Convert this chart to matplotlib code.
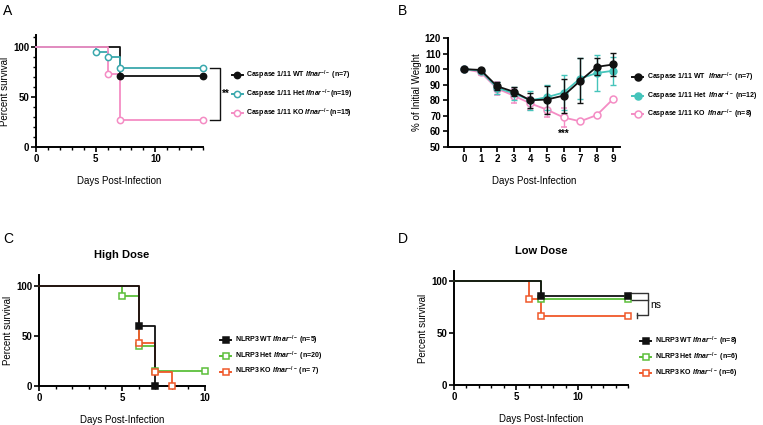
import numpy as np
import matplotlib
matplotlib.use("Agg")
import matplotlib.pyplot as plt
from matplotlib import font_manager
from matplotlib.lines import Line2D
from matplotlib.ticker import MultipleLocator

# the legend text in the figure is a condensed bold face
names = {f.name for f in font_manager.fontManager.ttflist}
if 'Liberation Sans Narrow' in names:
    leg_font, leg_fs = 'Liberation Sans Narrow', 5.7
else:
    leg_font, leg_fs = 'Liberation Sans', 5.0

plt.rcParams['font.family'] = 'Liberation Sans'
plt.rcParams['font.weight'] = 'bold'
plt.rcParams['mathtext.fontset'] = 'custom'
plt.rcParams['mathtext.rm'] = leg_font + ':bold'
plt.rcParams['mathtext.it'] = leg_font + ':italic:bold'
plt.rcParams['mathtext.bf'] = leg_font + ':bold'

# Panel A: Caspase 1/11 survival
a_wt_t, a_wt_s = [0, 7, 14], [100, 71.4, 71.4]
a_het_t, a_het_s = [0, 5, 6, 7, 14], [100, 94.7, 89.5, 78.9, 78.9]
a_ko_t, a_ko_s = [0, 6, 7, 14], [100, 73.3, 26.7, 26.7]
a_labels = [r'Caspase 1/11 WT $\mathit{Ifnar}^{-/-}$ (n=7)',
            r'Caspase 1/11 Het $\mathit{Ifnar}^{-/-}$(n=19)',
            r'Caspase 1/11 KO $\mathit{Ifnar}^{-/-}$(n=15)']

# Panel B: weight
b_days = np.arange(10)
b_wt = [100, 99.5, 89, 85.5, 80, 80.5, 83, 92.5, 101.5, 103]
b_wt_err = [0.8, 0.8, 2.5, 3, 5, 9, 11, 14.5, 5.5, 7.5]
b_het = [100, 99, 88, 84.5, 80, 82, 85, 94, 97.5, 99]
b_het_err = [0.8, 1.5, 4, 4, 6, 8, 11, 13, 11.5, 9]
b_ko = [100, 98, 87.5, 83, 78, 74, 69, 66.5, 70.5, 81]
b_ko_err = [0, 1.5, 4, 4.5, 4, 5, 6, 0, 0, 0]
b_labels = [r'Caspase 1/11 WT  $\mathit{Ifnar}^{-/-}$ (n=7)',
            r'Caspase 1/11 Het  $\mathit{Ifnar}^{-/-}$ (n=12)',
            r'Caspase 1/11 KO  $\mathit{Ifnar}^{-/-}$ (n=8)']

# Panel C: NLRP3 high dose
c_wt_t, c_wt_s = [0, 6, 7], [100, 60, 0]
c_het_t, c_het_s = [0, 5, 6, 7, 10], [100, 90, 40, 15, 15]
c_ko_t, c_ko_s = [0, 6, 7, 8], [100, 42.9, 14.3, 0]
c_labels = [r'NLRP3 WT $\mathit{Ifnar}^{-/-}$ (n=5)',
            r'NLRP3 Het $\mathit{Ifnar}^{-/-}$ (n=20)',
            r'NLRP3 KO $\mathit{Ifnar}^{-/-}$ (n= 7)']

# Panel D: NLRP3 low dose
d_wt_t, d_wt_s = [0, 7, 14], [100, 85.7, 85.7]
d_het_t, d_het_s = [0, 7, 14], [100, 83.3, 83.3]
d_ko_t, d_ko_s = [0, 6, 7, 14], [100, 83.3, 66.7, 66.7]
d_labels = [r'NLRP3 WT $\mathit{Ifnar}^{-/-}$ (n=8)',
            r'NLRP3 Het $\mathit{Ifnar}^{-/-}$ (n=6)',
            r'NLRP3 KO $\mathit{Ifnar}^{-/-}$ (n=6)']

black = '#111111'
teal = '#3aa8ad'
teal_b = '#45c4bb'
pink = '#f48cc4'
green = '#5cbf3a'
orange = '#f0582a'

fig = plt.figure(figsize=(7.63, 4.25), dpi=100)


def style_axes(ax):
    for s in ['top', 'right']:
        ax.spines[s].set_visible(False)
    for s in ['left', 'bottom']:
        ax.spines[s].set_linewidth(1.4)
    ax.tick_params(width=1.2, length=3.5, labelsize=7, pad=1.5)
    ax.tick_params(which='minor', width=1, length=2)


def km(ax, t, s, color, marker, filled, ms=4.5):
    ax.step(t, s, where='post', color=color, lw=1.3, clip_on=False, zorder=3)
    fc = color if filled else 'white'
    ax.plot(t[1:], s[1:], ls='none', marker=marker, ms=ms, mfc=fc, mec=color,
            mew=1.1, clip_on=False, zorder=4)


def legend(ax, colors, markers, filled, labels, loc, pitch, ms=4.5):
    handles = [Line2D([0], [0], color=c, lw=1.4, marker=m, ms=ms,
                      mfc=(c if f else 'white'), mec=c, mew=1.1)
               for c, m, f in zip(colors, markers, filled)]
    spacing = max(pitch / leg_fs - 1.88, 0.0)
    ax.legend(handles, labels, loc='center left', bbox_to_anchor=loc,
              frameon=False, prop={'family': leg_font, 'size': leg_fs,
                                   'weight': 'bold'},
              handlelength=1.6, handletextpad=0.5, labelspacing=spacing,
              borderaxespad=0, borderpad=0)


# ---- A
axA = fig.add_axes([0.0472, 0.654, 0.219, 0.264])
km(axA, a_wt_t, a_wt_s, black, 'o', True)
km(axA, a_het_t, a_het_s, teal, 'o', False)
km(axA, a_ko_t, a_ko_s, pink, 'o', False)
axA.set_xlim(0, 14)
axA.set_ylim(0, 112)
axA.set_xticks([0, 5, 10])
axA.set_yticks([0, 50, 100])
axA.xaxis.set_minor_locator(MultipleLocator(1))
axA.yaxis.set_minor_locator(MultipleLocator(10))
style_axes(axA)
axA.set_xlabel('Days Post-Infection', fontsize=7, labelpad=9)
axA.set_ylabel('Percent survival', fontsize=7, labelpad=2)
# significance bracket
top, bot = a_het_s[-1], a_ko_s[-1]
axA.plot([14.6, 15.4, 15.4, 14.6], [top, top, bot, bot], color=black, lw=1,
         clip_on=False)
axA.text(15.6, (top + bot) / 2, '**', fontsize=7, va='center', ha='left')
legend(axA, [black, teal, pink], ['o', 'o', 'o'], [True, False, False],
       a_labels, (1.17, 0.47), pitch=13.3)
fig.text(0.004, 0.99, 'A', fontsize=10, fontweight='normal', va='top')

# ---- B
axB = fig.add_axes([0.587, 0.654, 0.2256, 0.2566])
axB.errorbar(b_days, b_ko, yerr=b_ko_err, color=pink, lw=1.3, marker='o',
             ms=5, mfc='white', mec=pink, mew=1.1, capsize=2.5, elinewidth=1,
             zorder=3, clip_on=False)
axB.errorbar(b_days, b_het, yerr=b_het_err, color=teal_b, lw=1.3, marker='o',
             ms=5, mfc=teal_b, mec=teal_b, capsize=2.5, elinewidth=1, zorder=4,
             clip_on=False)
axB.errorbar(b_days, b_wt, yerr=b_wt_err, color=black, lw=1.3, marker='o',
             ms=5, mfc=black, mec=black, capsize=2.5, elinewidth=1, zorder=5,
             clip_on=False)
axB.set_xlim(-0.97, 9.4)
axB.set_ylim(50, 120)
axB.set_xticks(b_days)
axB.set_yticks(np.arange(50, 121, 10))
style_axes(axB)
axB.set_xlabel('Days Post-Infection', fontsize=7, labelpad=9)
axB.set_ylabel('% of Initial Weight', fontsize=7, labelpad=2)
axB.text(6, 58.5, '***', fontsize=7, ha='center', va='center')
legend(axB, [black, teal_b, pink], ['o', 'o', 'o'], [True, True, False],
       b_labels, (1.07, 0.468), pitch=13.3, ms=5)
fig.text(0.522, 0.99, 'B', fontsize=10, fontweight='normal', va='top')

# ---- C
axC = fig.add_axes([0.0511, 0.0918, 0.2176, 0.261])
km(axC, c_het_t, c_het_s, green, 's', False, ms=4)
km(axC, c_ko_t, c_ko_s, orange, 's', False, ms=5)
km(axC, c_wt_t, c_wt_s, black, 's', True, ms=4)
axC.set_xlim(0, 10)
axC.set_ylim(0, 111)
axC.set_xticks([0, 5, 10])
axC.set_yticks([0, 50, 100])
axC.xaxis.set_minor_locator(MultipleLocator(1))
style_axes(axC)
axC.set_xlabel('Days Post-Infection', fontsize=7, labelpad=9)
axC.set_ylabel('Percent survival', fontsize=7, labelpad=2)
axC.set_title('High Dose', fontsize=8, pad=12, fontweight='bold')
legend(axC, [black, green, orange], ['s', 's', 's'], [True, False, False],
       c_labels, (1.09, 0.27), pitch=11.2)
fig.text(0.004, 0.455, 'C', fontsize=10, fontweight='normal', va='top')

# ---- D
axD = fig.add_axes([0.595, 0.0941, 0.228, 0.268])
km(axD, d_ko_t, d_ko_s, orange, 's', False, ms=5)
km(axD, d_het_t, d_het_s, green, 's', False, ms=4)
km(axD, d_wt_t, d_wt_s, black, 's', True, ms=4.5)
axD.set_xlim(0, 14)
axD.set_ylim(0, 110)
axD.set_xticks([0, 5, 10])
axD.set_yticks([0, 50, 100])
axD.xaxis.set_minor_locator(MultipleLocator(1))
style_axes(axD)
axD.set_xlabel('Days Post-Infection', fontsize=7, labelpad=9)
axD.set_ylabel('Percent survival', fontsize=7, labelpad=2)
axD.set_title('Low Dose', fontsize=8, pad=12, fontweight='bold')
# ns bracket between the three end values
top, mid, bot = d_wt_s[-1] + 3, d_het_s[-1] - 1.5, d_ko_s[-1] + 0.5
axD.plot([14.1, 15.6, 15.6, 14.7], [top, top, bot, bot], color='#333333',
         lw=1, clip_on=False)
axD.plot([14.7, 14.7], [bot - 2.5, bot + 2.5], color='#333333', lw=1,
         clip_on=False)
axD.plot([14.1, 15.6], [mid, mid], color='#333333', lw=1, clip_on=False)
axD.text(15.8, 77, 'ns', fontsize=7.5, fontweight='normal',
         va='center', ha='left')
legend(axD, [black, green, orange], ['s', 's', 's'], [True, False, False],
       d_labels, (1.07, 0.245), pitch=11.2)
fig.text(0.522, 0.455, 'D', fontsize=10, fontweight='normal', va='top')

fig.savefig('out.png', dpi=100)
